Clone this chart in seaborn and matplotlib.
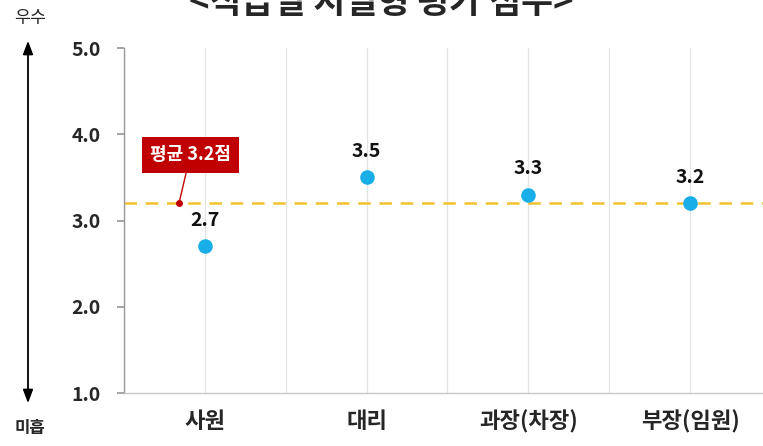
import seaborn as sns
import pandas as pd
import matplotlib.pyplot as plt
from matplotlib.patches import FancyArrowPatch

sns.set_theme(style="white")
plt.rcParams['font.family'] = ['Noto Sans CJK KR', 'DejaVu Sans']

# data
ranks = ['사원', '대리', '과장(차장)', '부장(임원)']
scores = [2.7, 3.5, 3.3, 3.2]
mean_score = 3.2
y_ticks = [1.0, 2.0, 3.0, 4.0, 5.0]

df = pd.DataFrame({'rank': ranks, 'score': scores})

fig = plt.figure(figsize=(7.63, 4.46), dpi=100)
ax = fig.add_axes([0.1625, 0.1188, 0.848, 0.7735])

# vertical grid at category centers and between
for x in [-0.5, 0, 0.5, 1, 1.5, 2, 2.5, 3, 3.5]:
    ax.axvline(x, color='#e3e3e3', lw=0.9, zorder=0)

ax.axhline(mean_score, ls=(0, (5, 3.5)), color='#F2C12E', lw=1.8, zorder=1)

sns.stripplot(data=df, x='rank', y='score', jitter=False, size=10.5,
              color='#1AAEE8', linewidth=0, ax=ax, zorder=3)

for i, s in enumerate(scores):
    ax.annotate(f'{s:.1f}', (i, s), xytext=(0, 12), textcoords='offset points',
                ha='center', va='bottom', fontsize=14, fontweight='bold',
                color='#111111')

# mean label
ax.plot([-0.16], [mean_score], 'o', color='#C00000', ms=4, zorder=4)
ax.annotate(f'평균 {mean_score}점', xy=(-0.16, mean_score), xytext=(-0.09, 3.76),
            ha='center', va='center', fontsize=13, fontweight='bold', color='white',
            bbox=dict(boxstyle='square,pad=0.45', fc='#C00000', ec='none'),
            arrowprops=dict(arrowstyle='-', color='#C00000', lw=1,
                            shrinkA=0, shrinkB=0), zorder=5)

ax.set_xlim(-0.5, 3.5)
ax.set_ylim(1.0, 5.0)
ax.set_yticks(y_ticks)
ax.set_yticklabels([f'{v:.1f}' for v in y_ticks], fontsize=14, fontweight='bold')
ax.set_xticks(range(len(ranks)))
ax.set_xticklabels(ranks, fontsize=16, fontweight='bold')
ax.set_xlabel('')
ax.set_ylabel('')
ax.tick_params(axis='y', length=5, color='#999999', pad=12, left=True)
ax.tick_params(axis='x', length=0, pad=12)

for side in ['top', 'right']:
    ax.spines[side].set_visible(False)
ax.spines['left'].set_color('#999999')
ax.spines['bottom'].set_color('#c8c8c8')
ax.spines['left'].set_linewidth(1)
ax.spines['bottom'].set_linewidth(1)

# left side scale arrow
fig.patches.append(FancyArrowPatch(
    (28 / 763, 1 - 406 / 446), (28 / 763, 1 - 38 / 446), transform=fig.transFigure,
    arrowstyle='<|-|>,head_length=8,head_width=3', color='black', lw=1.3))
fig.text(30 / 763, 1 - 18 / 446, '우수', ha='center', va='center', fontsize=12.5)
fig.text(30 / 763, 1 - 428 / 446, '미흡', ha='center', va='center', fontsize=12,
         fontweight='bold')

fig.text(0.5, 1 - 3 / 446, '<직급별 지필형 평가 점수>', ha='center', va='center',
         fontsize=25, fontweight='bold')

fig.savefig('out.png', dpi=100)
